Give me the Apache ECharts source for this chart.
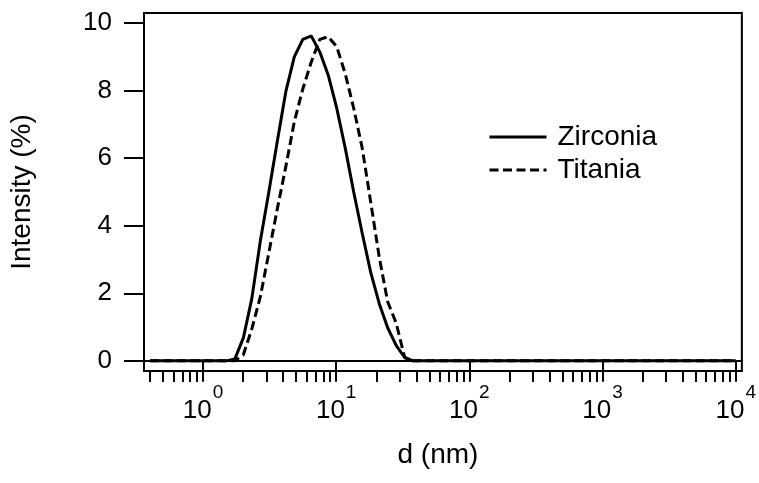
<!DOCTYPE html>
<html>
<head>
<meta charset="utf-8">
<script src="https://cdn.jsdelivr.net/npm/echarts@6/dist/echarts.min.js"></script>
<style>
  html, body { margin: 0; padding: 0; background: #fff; }
  #chart { width: 759px; height: 483px; }
</style>
</head>
<body>
<div id="chart"></div>
<script>
// Particle size bins (nm), log-spaced from 0.4 to 10000
const diameters = [
  0.4, 0.4632, 0.5365, 0.6213, 0.7195, 0.8332, 0.9649, 1.117, 1.294, 1.499,
  1.736, 2.01, 2.328, 2.696, 3.122, 3.615, 4.187, 4.849, 5.615, 6.503,
  7.531, 8.721, 10.1, 11.7, 13.54, 15.69, 18.17, 21.04, 24.36, 28.21,
  32.67, 37.84, 43.82, 50.75, 58.77, 68.06, 78.82, 91.28, 105.7, 122.4,
  141.8, 164.2, 190.1, 220.2, 255, 295.3, 342, 396.1, 458.7, 531.2,
  615.1, 712.4, 825, 955.4, 1106, 1281, 1484, 1718, 1990, 2305,
  2669, 3091, 3580, 4145, 4801, 5560, 6439, 7456, 8635, 10000
];

// Intensity (%) per bin
const zirconia = [
  0, 0, 0, 0, 0, 0, 0, 0, 0, 0,
  0.06, 0.68, 1.85, 3.55, 5.0, 6.5, 7.97, 9.0, 9.52, 9.62,
  9.15, 8.46, 7.48, 6.3, 5.0, 3.78, 2.62, 1.7, 0.98, 0.46,
  0.1, 0, 0, 0, 0, 0, 0, 0, 0, 0,
  0, 0, 0, 0, 0, 0, 0, 0, 0, 0,
  0, 0, 0, 0, 0, 0, 0, 0, 0, 0,
  0, 0, 0, 0, 0, 0, 0, 0, 0, 0
];
const titania = [
  0, 0, 0, 0, 0, 0, 0, 0, 0, 0,
  0, 0.18, 0.95, 1.9, 3.2, 4.5, 5.75, 7.08, 8.05, 8.85,
  9.52, 9.6, 9.3, 8.5, 7.48, 6.3, 4.7, 3.08, 1.75, 1.12,
  0.1, 0, 0, 0, 0, 0, 0, 0, 0, 0,
  0, 0, 0, 0, 0, 0, 0, 0, 0, 0,
  0, 0, 0, 0, 0, 0, 0, 0, 0, 0,
  0, 0, 0, 0, 0, 0, 0, 0, 0, 0
];

// Axis ticks
const xMajorTicks = [1, 10, 100, 1000, 10000];
const xMinorTicks = [
  0.4, 0.5, 0.6, 0.7, 0.8, 0.9,
  2, 3, 4, 5, 6, 7, 8, 9,
  20, 30, 40, 50, 60, 70, 80, 90,
  200, 300, 400, 500, 600, 700, 800, 900,
  2000, 3000, 4000, 5000, 6000, 7000, 8000, 9000
];
const yTicks = [0, 2, 4, 6, 8, 10];

const FONT = '"Liberation Sans", Arial, Helvetica, sans-serif';
const black = '#000';

const pairs = (xs, ys) => xs.map((x, i) => [x, ys[i]]);

const chart = echarts.init(document.getElementById('chart'), null, { renderer: 'canvas' });

chart.setOption({
  animation: false,
  backgroundColor: '#fff',
  textStyle: { fontFamily: FONT, color: black },
  grid: {
    left: 144, right: 17, top: 13, bottom: 112,
    show: true, borderColor: black, borderWidth: 2,
    containLabel: false
  },
  legend: {
    orient: 'vertical',
    left: 488, top: 123, padding: 0,
    itemWidth: 57, itemHeight: 14, itemGap: 5,
    data: ['Zirconia', 'Titania'],
    itemStyle: { opacity: 0, borderWidth: 0 },
    lineStyle: { width: 3 },
    textStyle: { fontFamily: FONT, fontSize: 28, color: black, padding: [0, 0, 0, 6], lineHeight: 28 }
  },
  xAxis: [
    {
      type: 'log', logBase: 10,
      min: 0.3608, max: 11114,
      name: 'd (nm)', nameLocation: 'middle', nameGap: 70,
      nameTextStyle: { fontFamily: FONT, fontSize: 28, color: black, padding: [0, 10, 0, 0] },
      axisLine: { show: true, lineStyle: { color: black, width: 2 } },
      axisTick: { show: true, length: 21, lineStyle: { color: black, width: 2 }, customValues: xMajorTicks },
      axisLabel: {
        customValues: xMajorTicks,
        margin: 12,
        color: black,
        formatter: v => '{b|10}{s|' + Math.round(Math.log10(v)) + '}',
        rich: {
          b: { fontFamily: FONT, fontSize: 26, color: black, lineHeight: 41, verticalAlign: 'bottom' },
          s: { fontFamily: FONT, fontSize: 19, color: black, lineHeight: 41, verticalAlign: 'top', padding: [0, 0, 0, 1] }
        }
      },
      splitLine: { show: false },
      minorTick: { show: false },
      minorSplitLine: { show: false }
    },
    {
      type: 'log', logBase: 10,
      min: 0.3608, max: 11114,
      position: 'bottom',
      axisLine: { show: false },
      axisTick: { show: true, length: 11, lineStyle: { color: black, width: 2 }, customValues: xMinorTicks },
      axisLabel: { show: false },
      splitLine: { show: false }
    }
  ],
  yAxis: {
    type: 'value',
    min: -0.3, max: 10.3,
    name: 'Intensity (%)', nameLocation: 'middle', nameGap: 108,
    nameTextStyle: { fontFamily: FONT, fontSize: 28, color: black },
    axisLine: { show: true, lineStyle: { color: black, width: 2 } },
    axisTick: { show: true, length: 20, lineStyle: { color: black, width: 2 }, customValues: yTicks },
    axisLabel: { customValues: yTicks, margin: 32, fontFamily: FONT, fontSize: 26, color: black },
    splitLine: { show: false }
  },
  series: [
    {
      name: 'Zirconia', type: 'line', xAxisIndex: 0,
      data: pairs(diameters, zirconia),
      symbol: 'none', smooth: false, z: 3,
      lineStyle: { color: black, width: 3, type: 'solid' },
      itemStyle: { color: black }
    },
    {
      name: 'Titania', type: 'line', xAxisIndex: 0,
      data: pairs(diameters, titania),
      symbol: 'none', smooth: false, z: 2,
      lineStyle: { color: black, width: 3, type: [9, 4.5] },
      itemStyle: { color: black }
    }
  ]
});
</script>
</body>
</html>
